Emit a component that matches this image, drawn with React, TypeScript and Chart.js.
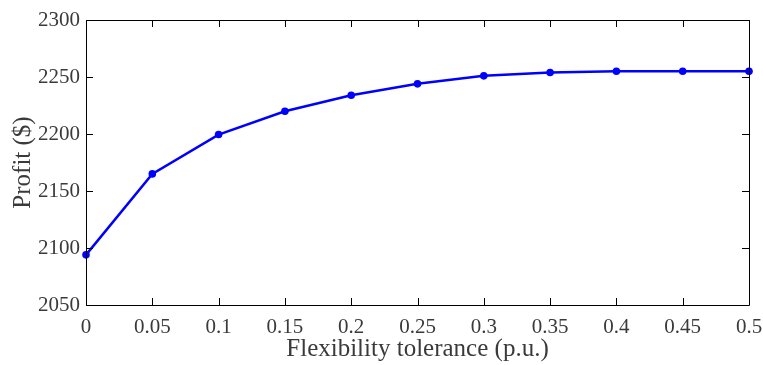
import React, { useEffect, useRef } from "react";
import { Chart, registerables } from "chart.js";

Chart.register(...registerables);

const flexibility: number[] = [0, 0.05, 0.1, 0.15, 0.2, 0.25, 0.3, 0.35, 0.4, 0.45, 0.5];
const profit: number[] = [2094, 2165, 2199.5, 2220, 2234, 2244, 2251, 2254, 2255, 2255, 2255];
const xTicks: number[] = [0, 0.05, 0.1, 0.15, 0.2, 0.25, 0.3, 0.35, 0.4, 0.45, 0.5];
const yTicks: number[] = [2050, 2100, 2150, 2200, 2250, 2300];

const FONT = "'Liberation Serif', 'Times New Roman', serif";

const boxTicksPlugin = {
  id: "boxTicks",
  afterDraw(chart: any) {
    const { ctx, chartArea } = chart;
    const { left, right, top, bottom } = chartArea;
    const xs = chart.scales.x;
    const ys = chart.scales.y;
    const len = 7;
    ctx.save();
    ctx.strokeStyle = "#000";
    ctx.lineWidth = 1;
    ctx.beginPath();
    ctx.rect(Math.round(left) + 0.5, Math.round(top) + 0.5, Math.round(right - left), Math.round(bottom - top));
    xTicks.forEach((v) => {
      const px = Math.round(xs.getPixelForValue(v)) + 0.5;
      ctx.moveTo(px, bottom);
      ctx.lineTo(px, bottom - len);
      ctx.moveTo(px, top);
      ctx.lineTo(px, top + len);
    });
    yTicks.forEach((v) => {
      const py = Math.round(ys.getPixelForValue(v)) + 0.5;
      ctx.moveTo(left, py);
      ctx.lineTo(left + len, py);
      ctx.moveTo(right, py);
      ctx.lineTo(right - len, py);
    });
    ctx.stroke();
    ctx.restore();
  },
};

export default function App() {
  const ref = useRef<HTMLCanvasElement | null>(null);
  useEffect(() => {
    if (!ref.current) return;
    const chart = new Chart(ref.current, {
      type: "line",
      data: {
        datasets: [
          {
            data: flexibility.map((x, i) => ({ x, y: profit[i] })),
            borderColor: "#0000ff",
            backgroundColor: "#0000ff",
            borderWidth: 2.5,
            pointRadius: 3.8,
            pointBorderWidth: 0,
            pointBackgroundColor: "#0000ff",
            tension: 0,
            clip: false as any,
          },
        ],
      },
      plugins: [boxTicksPlugin],
      options: {
        animation: false,
        responsive: false,
        devicePixelRatio: 1,
        layout: { padding: { top: 20, right: 14, left: 0, bottom: 0 } },
        plugins: { legend: { display: false }, tooltip: { enabled: false } },
        scales: {
          x: {
            type: "linear",
            min: 0,
            max: 0.5,
            afterFit: (s: any) => {
              s.height = 60;
              s.paddingLeft = 0;
              s.paddingRight = 0;
            },
            afterBuildTicks: (s: any) => {
              s.ticks = xTicks.map((v) => ({ value: v }));
            },
            grid: { display: false, drawTicks: false },
            border: { display: false },
            ticks: {
              autoSkip: false,
              maxRotation: 0,
              padding: 10,
              color: "#3a3a3a",
              font: { family: FONT, size: 21 },
              callback: (v: any) => String(Number(v)),
            },
            title: {
              display: true,
              text: "Flexibility tolerance (p.u.)",
              color: "#3a3a3a",
              font: { family: FONT, size: 25 },
              padding: { top: 0, bottom: 1 },
            },
          },
          y: {
            type: "linear",
            min: 2050,
            max: 2300,
            afterFit: (s: any) => {
              s.width = 86;
              s.paddingTop = 0;
              s.paddingBottom = 0;
            },
            afterBuildTicks: (s: any) => {
              s.ticks = yTicks.map((v) => ({ value: v }));
            },
            grid: { display: false, drawTicks: false },
            border: { display: false },
            ticks: {
              autoSkip: false,
              padding: 6,
              color: "#3a3a3a",
              font: { family: FONT, size: 21 },
              callback: (v: any) => String(v),
            },
            title: {
              display: true,
              text: "Profit ($)",
              color: "#3a3a3a",
              font: { family: FONT, size: 25 },
              padding: { top: 8, bottom: 0 },
            },
          },
        },
      },
    });
    return () => chart.destroy();
  }, []);
  return (
    <div style={{ position: "absolute", left: 0, top: 0, width: 763, height: 365, background: "#fff" }}>
      <canvas ref={ref} width={763} height={365} />
    </div>
  );
}
